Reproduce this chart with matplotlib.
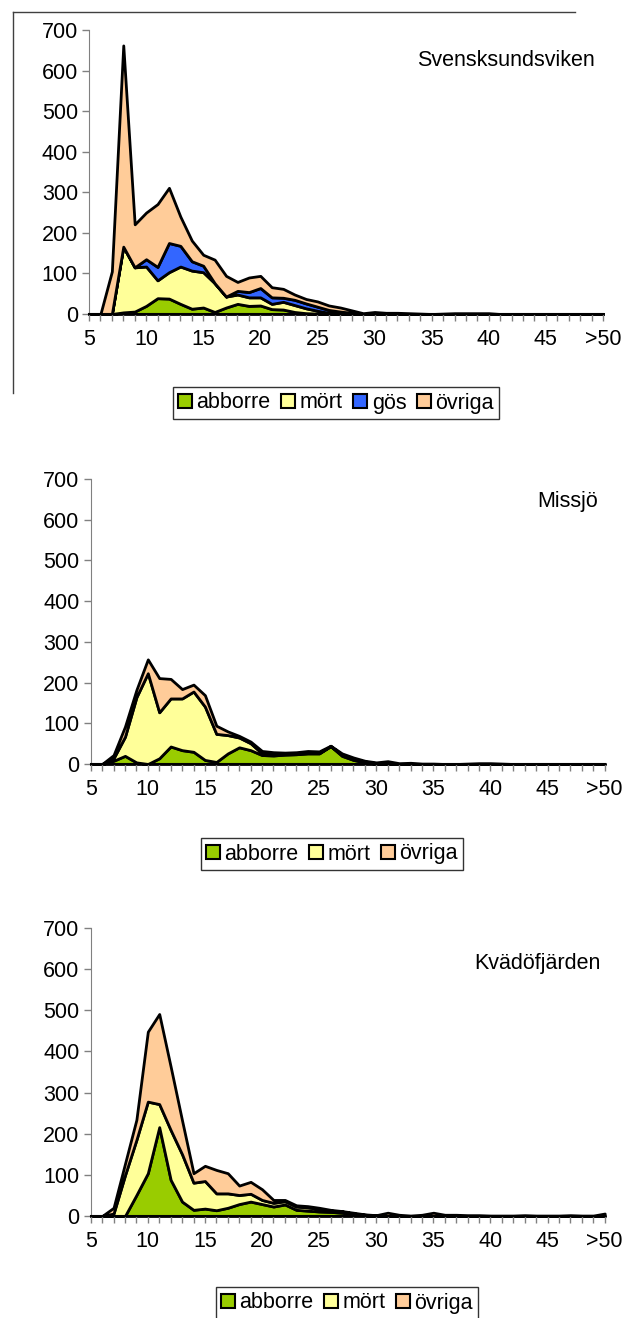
import numpy as np
import matplotlib
matplotlib.use('Agg')
import matplotlib.pyplot as plt
from matplotlib.patches import Patch
from matplotlib.lines import Line2D

plt.rcParams['font.family'] = ['Liberation Sans', 'DejaVu Sans']

# length classes (cm): 5..49 and >50
klasser = [str(i) for i in range(5, 50)] + ['>50']

# Svensksundsviken
abborre_1 = [0, 0, 0, 4, 6, 20, 39, 38, 25, 13, 16, 5, 16, 25, 20, 21, 12, 11, 5, 2, 1, 0, 0, 0,
             0, 0, 0, 0, 0, 0, 0, 0, 0, 0, 0, 0, 0, 0, 0, 0, 0, 0, 0, 0, 0, 0]
mort_1 = [0, 0, 0, 162, 109, 97, 44, 65, 92, 94, 87, 71, 27, 23, 21, 20, 13, 19, 17, 12, 7, 3, 1, 0,
          0, 0, 0, 0, 0, 0, 0, 0, 0, 0, 0, 0, 0, 0, 0, 0, 0, 0, 0, 0, 0, 0]
gos_1 = [0, 0, 0, 0, 0, 18, 33, 72, 51, 23, 16, 0, 0, 9, 13, 23, 16, 10, 13, 12, 10, 7, 5, 3,
         0, 0, 0, 0, 0, 0, 0, 0, 0, 0, 0, 0, 0, 0, 0, 0, 0, 0, 0, 0, 0, 0]
ovriga_1 = [0, 0, 105, 496, 106, 115, 155, 136, 72, 51, 27, 58, 51, 22, 36, 30, 25, 22, 13, 11, 13, 11, 10, 6,
            2, 5, 3, 3, 2, 1, 0, 1, 2, 2, 2, 2, 0, 0, 0, 0, 0, 0, 0, 0, 0, 0]

# Missjö
abborre_2 = [0, 0, 8, 20, 4, 0, 14, 43, 34, 30, 10, 5, 26, 41, 34, 22, 21, 23, 24, 26, 26, 44, 20, 10,
             4, 1, 1, 0, 0, 0, 0, 0, 0, 0, 0, 0, 0, 0, 0, 0, 0, 0, 0, 0, 0, 0]
mort_2 = [0, 0, 6, 47, 160, 223, 113, 118, 127, 148, 131, 69, 45, 24, 17, 4, 3, 2, 2, 2, 1, 0, 3, 3,
          2, 1, 1, 0, 0, 0, 0, 0, 0, 0, 0, 0, 0, 0, 0, 0, 0, 0, 0, 0, 0, 0]
ovriga_2 = [0, 0, 8, 25, 18, 34, 84, 48, 23, 17, 28, 20, 9, 4, 4, 6, 5, 3, 3, 4, 4, 1, 3, 3,
            2, 2, 5, 2, 3, 1, 1, 0, 0, 1, 2, 2, 1, 0, 0, 0, 0, 0, 0, 0, 0, 0]

# Kvädöfjärden
abborre_3 = [0, 0, 0, 0, 51, 104, 216, 88, 35, 15, 18, 14, 20, 29, 35, 29, 23, 28, 15, 13, 11, 10, 8, 4,
             2, 1, 0, 0, 0, 0, 0, 0, 0, 0, 0, 0, 0, 0, 0, 0, 0, 0, 0, 0, 0, 0]
mort_3 = [0, 0, 6, 99, 134, 174, 56, 121, 115, 66, 67, 41, 35, 22, 19, 10, 9, 8, 8, 8, 6, 3, 3, 2,
          1, 0, 0, 0, 0, 0, 0, 0, 0, 0, 0, 0, 0, 0, 0, 0, 0, 0, 0, 0, 0, 0]
ovriga_3 = [0, 0, 14, 28, 49, 170, 219, 154, 82, 23, 37, 57, 49, 23, 29, 26, 7, 3, 3, 3, 3, 2, 1, 2,
            1, 1, 8, 3, 1, 3, 8, 3, 3, 2, 2, 1, 1, 1, 2, 1, 1, 1, 2, 1, 1, 6]

farg = {'abborre': '#99CC00', 'mört': '#FFFF99', 'gös': '#3366FF', 'övriga': '#FFCC99'}

W, H = 630, 1318
FS = 15.5
fig = plt.figure(figsize=(W / 100, H / 100), dpi=100)


def panel(left_px, y0_px, h_px, serier, titel, titel_xy, leg_xy):
    ax = fig.add_axes([left_px / W, 1 - y0_px / H, 514 / W, h_px / H])
    x = np.arange(len(klasser))
    namn = list(serier.keys())
    polys = ax.stackplot(x, *[serier[n] for n in namn], colors=[farg[n] for n in namn],
                         edgecolor='black', linewidth=2.0)
    for p in polys:
        p.set_clip_on(False)
    ax.set_xlim(0, len(klasser) - 1)
    ax.set_ylim(0, 700)
    ax.set_yticks(range(0, 701, 100))
    ax.set_xticks(x)
    ax.set_xticklabels([k if i % 5 == 0 else '' for i, k in enumerate(klasser)])
    for s in ['top', 'right']:
        ax.spines[s].set_visible(False)
    ax.spines['left'].set_color('#808080')
    ax.spines['bottom'].set_color('black')
    ax.spines['bottom'].set_linewidth(1.5)
    ax.tick_params(axis='both', direction='out', color='#808080', length=5, width=1,
                   labelsize=FS, pad=3)
    ax.tick_params(axis='x', pad=6)
    ax.set_facecolor('none')
    fig.text(titel_xy[0] / W, 1 - titel_xy[1] / H, titel, ha='right', va='center', fontsize=FS)
    handles = [Patch(facecolor=farg[n], edgecolor='black', linewidth=1.5) for n in namn]
    leg = fig.legend(handles, namn, loc='center', bbox_to_anchor=(leg_xy[0] / W, 1 - leg_xy[1] / H),
                     ncol=len(namn), fontsize=FS, frameon=True, fancybox=False,
                     edgecolor='black', handlelength=0.65, handleheight=0.65,
                     handletextpad=0.2, columnspacing=0.5, borderpad=0.25, borderaxespad=0)
    leg.get_frame().set_linewidth(1.0)
    return ax


panel(89, 314, 284, {'abborre': abborre_1, 'mört': mort_1, 'gös': gos_1, 'övriga': ovriga_1},
      'Svensksundsviken', (595, 60), (336, 403))
panel(90.7, 764, 285, {'abborre': abborre_2, 'mört': mort_2, 'övriga': ovriga_2},
      'Missjö', (598, 502), (332, 854))
panel(90.7, 1216, 288, {'abborre': abborre_3, 'mört': mort_3, 'övriga': ovriga_3},
      'Kvädöfjärden', (601, 963), (347, 1303))

# chart area border of the first chart (top and left edge only)
fig.add_artist(Line2D([13 / W, 575 / W], [1 - 12 / H, 1 - 12 / H], color='#404040', lw=1))
fig.add_artist(Line2D([13 / W, 13 / W], [1 - 12 / H, 1 - 393 / H], color='#404040', lw=1))

fig.savefig('out.png', dpi=100)
